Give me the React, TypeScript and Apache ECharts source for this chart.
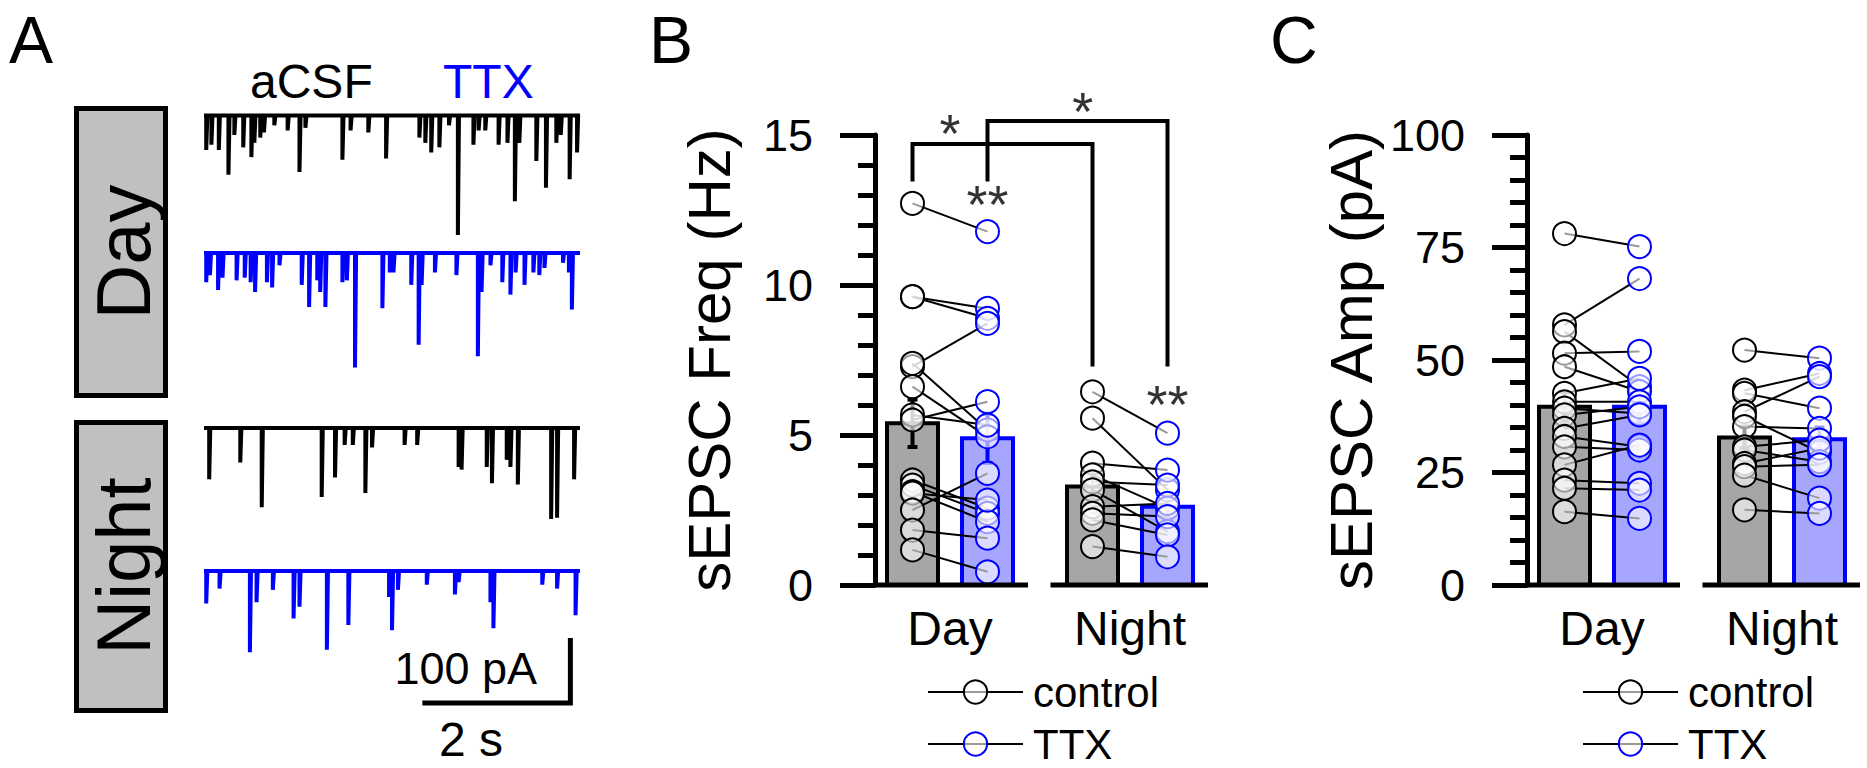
import { useEffect, useRef } from 'react';
import * as echarts from 'echarts';

const FONT = '"Liberation Sans", Arial, Helvetica, sans-serif';
const BLUE = '#0000ff';

// ---------- Panel A : sEPSC traces, events as [time (s), amplitude (pA)] ----------
const traceDuration = 5.08;
const dayAcsfEvents = [[0.03,53],[0.10,45],[0.20,53],[0.33,91],[0.41,30],[0.53,49],[0.64,64],[0.68,42],[0.76,34],[0.81,26],[0.95,15],[1.13,23],[1.29,87],[1.37,19],[1.87,68],[1.98,23],[2.22,26],[2.46,66],[2.91,34],[2.99,42],[3.07,57],[3.18,49],[3.31,15],[3.43,184],[3.64,45],[3.71,23],[3.80,23],[3.98,45],[4.10,42],[4.20,132],[4.26,42],[4.49,70],[4.62,111],[4.76,42],[4.82,30],[4.94,98],[5.04,57]];
const dayTtxEvents = [[0.03,45],[0.08,34],[0.19,57],[0.25,38],[0.44,42],[0.55,38],[0.63,45],[0.69,60],[0.85,45],[0.92,53],[1.02,19],[1.32,49],[1.42,83],[1.53,42],[1.57,60],[1.64,83],[1.87,45],[1.93,42],[2.04,176],[2.41,85],[2.51,30],[2.56,30],[2.80,49],[2.90,141],[2.94,49],[3.12,30],[3.41,34],[3.70,159],[3.75,60],[3.87,19],[4.03,45],[4.14,64],[4.21,30],[4.33,49],[4.45,30],[4.53,34],[4.60,23],[4.85,15],[4.93,30],[4.97,87]];
const nightAcsfEvents = [[0.07,79],[0.49,53],[0.78,122],[1.59,106],[1.77,76],[1.90,26],[2.01,26],[2.18,100],[2.27,30],[2.71,26],[2.88,26],[3.44,60],[3.48,64],[3.82,60],[3.89,85],[4.09,49],[4.14,60],[4.24,87],[4.69,140],[4.77,138],[5.00,79]];
const nightTtxEvents = [[0.03,50],[0.21,27],[0.62,125],[0.71,48],[0.93,29],[1.21,73],[1.29,55],[1.66,121],[1.95,83],[2.50,40],[2.54,91],[2.62,29],[3.01,21],[3.39,36],[3.44,17],[3.87,48],[3.91,88],[4.57,21],[4.77,27],[5.02,68]];
const scaleBarTime = 2;   // s
const scaleBarAmp = 100;  // pA

// ---------- Panel B : sEPSC frequency (Hz) ----------
const groups = ['Day', 'Night'];
const freqDayControl = [12.72, 9.61, 9.61, 7.28, 7.39, 6.61, 5.67, 5.5, 3.5, 3.33, 3.11, 3.06, 2.5, 1.83, 1.17];
const freqDayTTX = [11.78, 9.22, 8.89, 8.72, 5.17, 4.94, 5.33, 6.11, 2.56, 2.39, 2.11, 2.83, 3.72, 1.56, 0.44];
const freqNightControl = [6.44, 5.56, 4.06, 3.67, 3.44, 3.17, 2.61, 2.39, 2.17, 1.28];
const freqNightTTX = [5.06, 3.17, 3.83, 2.56, 3.33, 1.78, 2.72, 2.28, 1.67, 0.94];
const freqMean = [5.39, 4.89, 3.28, 2.61]; // day ctrl, day TTX, night ctrl, night TTX
const freqSem = [0.79, 0.82, 0.45, 0.4];
const freqTicks = { max: 15, interval: 5 };

// ---------- Panel C : sEPSC amplitude (pA) ----------
const ampDayControl = [78.1, 57.8, 56.3, 51.5, 48.5, 42.6, 40.7, 39.3, 37.8, 34.8, 33.0, 30.7, 26.7, 23.3, 21.5, 16.3];
const ampDayTTX = [75.2, 68.1, 44.1, 51.9, 43.0, 45.9, 40.7, 38.1, 39.6, 37.8, 30.7, 30.0, 31.1, 22.6, 21.1, 14.8];
const ampNightControl = [52.2, 43.3, 42.6, 38.5, 37.5, 35.2, 30.7, 30.0, 27.0, 26.3, 24.4, 16.7];
const ampNightTTX = [50.4, 47.0, 39.3, 46.3, 29.5, 34.8, 32.2, 27.4, 30.4, 26.7, 19.3, 15.9];
const ampMean = [39.6, 39.6, 32.8, 32.4];
const ampSem = [3.3, 3.8, 2.4, 2.6];
const ampTicks = { max: 100, interval: 25 };

// significance annotations (panel B): bracket paths and star labels in data units
const sigBrackets = [
  [[0, 13.45], [0, 14.7], [2.4, 14.7], [2.4, 7.28]],
  [[1, 13.45], [1, 15.47], [3.4, 15.47], [3.4, 7.28]],
];
const sigStars = [['*', 0.5, 15.27], ['*', 2.27, 16.0], ['**', 1, 12.9], ['**', 3.4, 6.22]];

// ---------- layout constants ----------
const POS = [0, 1, 2.4, 3.4];          // day ctrl, day TTX, night ctrl, night TTX
const GROUP_CENTER = [0.5, 2.9];
const X_MIN = -0.5, X_MAX = 3.94;
const AXIS_SEGMENTS = [[-0.5, 1.54], [1.84, 3.94]];
const BAR_W = 0.68;
const SB_T0 = 2.95, SB_A0 = -103;

function traceData(ev: number[][]) {
  const pts: number[][] = [[0, 0]];
  ev.forEach(([t, a]) => { pts.push([t, 0], [t, -a], [t + 0.015, 0]); });
  pts.push([traceDuration, 0]);
  return pts;
}

function barPanel(gi: number, means: number[], sems: number[], dc: number[], dt: number[], nc: number[], nt: number[]) {
  const s: any[] = [];
  s.push({
    type: 'custom', xAxisIndex: gi, yAxisIndex: gi, silent: true, z: 2,
    encode: { x: 0, y: 1 },
    data: means.map((m, i) => [POS[i], m, sems[i], i % 2]),
    renderItem: (params: any, api: any) => {
      const x = api.value(0), m = api.value(1), se = api.value(2), isT = api.value(3) === 1;
      const base = api.coord([x, 0]);
      const top = api.coord([x, m]);
      const w = api.size([BAR_W, 0])[0];
      const stroke = isT ? BLUE : '#000';
      const eT = api.coord([x, m + se]);
      const eB = api.coord([x, m - se]);
      const cap = 5;
      const ls = { stroke, lineWidth: 4 };
      return {
        type: 'group', children: [
          { type: 'rect', shape: { x: base[0] - w / 2, y: top[1], width: w, height: base[1] - top[1] }, style: { fill: isT ? '#a6a6ff' : '#a6a6a6', stroke, lineWidth: 4 } },
          { type: 'line', shape: { x1: eT[0], y1: eT[1], x2: eB[0], y2: eB[1] }, style: ls },
          { type: 'line', shape: { x1: eT[0] - cap, y1: eT[1], x2: eT[0] + cap, y2: eT[1] }, style: ls },
          { type: 'line', shape: { x1: eB[0] - cap, y1: eB[1], x2: eB[0] + cap, y2: eB[1] }, style: ls },
        ],
      };
    },
  });
  // broken x axis segments
  AXIS_SEGMENTS.forEach(([a, b]) => {
    s.push({ type: 'line', xAxisIndex: gi, yAxisIndex: gi, data: [[a, 0], [b, 0]], symbol: 'none', clip: false, silent: true, z: 5,
      lineStyle: { color: '#000', width: 5, cap: 'butt' } });
  });
  const pairs: [number[], number[], number, number][] = [[dc, dt, POS[0], POS[1]], [nc, nt, POS[2], POS[3]]];
  pairs.forEach(([c, t, xc, xt]) => {
    c.forEach((v, i) => {
      s.push({ type: 'line', xAxisIndex: gi, yAxisIndex: gi, data: [[xc, v], [xt, t[i]]], symbol: 'none', silent: true, z: 3,
        lineStyle: { color: '#000', width: 2 } });
    });
  });
  const ptStyle = (col: string) => ({ color: 'rgba(255,255,255,0.6)', borderColor: col, borderWidth: 2, opacity: 1 });
  s.push({ name: 'control', type: 'line', xAxisIndex: gi, yAxisIndex: gi, z: 4, silent: true,
    data: [...dc.map(v => [POS[0], v]), ...nc.map(v => [POS[2], v])],
    symbol: 'circle', symbolSize: 23, showSymbol: true, lineStyle: { width: 0, opacity: 0 }, itemStyle: ptStyle('#000') });
  s.push({ name: 'TTX', type: 'line', xAxisIndex: gi, yAxisIndex: gi, z: 4, silent: true,
    data: [...dt.map(v => [POS[1], v]), ...nt.map(v => [POS[3], v])],
    symbol: 'circle', symbolSize: 23, showSymbol: true, lineStyle: { width: 0, opacity: 0 }, itemStyle: ptStyle(BLUE) });
  return s;
}

function xAxisFor(gi: number) {
  return {
    gridIndex: gi, type: 'value', min: X_MIN, max: X_MAX, interval: 0.1,
    axisLine: { show: false, onZero: false }, axisTick: { show: false }, splitLine: { show: false },
    axisLabel: {
      customValues: GROUP_CENTER,
      formatter: (v: number) => (Math.abs(v - GROUP_CENTER[0]) < 0.01 ? groups[0] : Math.abs(v - GROUP_CENTER[1]) < 0.01 ? groups[1] : ''),
      fontSize: 48, color: '#000', fontFamily: FONT, margin: 19,
    },
  };
}

function yAxisFor(gi: number, ticks: { max: number; interval: number }, name: string, gap: number) {
  return {
    gridIndex: gi, type: 'value', min: 0, max: ticks.max, interval: ticks.interval,
    axisLine: { show: true, onZero: false, lineStyle: { color: '#000', width: 5 } },
    axisTick: { show: true, inside: false, length: 35, lineStyle: { color: '#000', width: 5 } },
    minorTick: { show: true, splitNumber: 5, length: 17, lineStyle: { color: '#000', width: 5 } },
    splitLine: { show: false }, minorSplitLine: { show: false },
    axisLabel: { fontSize: 45, color: '#000', fontFamily: FONT, margin: 62 },
    name, nameLocation: 'middle', nameGap: gap,
    nameTextStyle: { fontSize: 60, color: '#000', fontFamily: FONT },
  };
}

export default function App() {
  const ref = useRef<HTMLDivElement>(null);
  useEffect(() => {
    document.body.style.margin = '0';
    if (!ref.current) return;
    const chart = echarts.init(ref.current, undefined, { renderer: 'svg' });

    const traceTops = [109, 246.5, 421.5, 564.5];
    const traces = [dayAcsfEvents, dayTtxEvents, nightAcsfEvents, nightTtxEvents];
    const traceColors = ['#000', BLUE, '#000', BLUE];

    const grid: any[] = traceTops.map(t => ({ left: 204, top: t, width: 376, height: 143 }));
    grid.push({ left: 875, top: 135, width: 333, height: 450 });
    grid.push({ left: 1527, top: 135, width: 333, height: 450 });

    const xAxis: any[] = traceTops.map((_, i) => ({ gridIndex: i, type: 'value', min: 0, max: traceDuration, show: false }));
    xAxis.push(xAxisFor(4), xAxisFor(5));
    const yAxis: any[] = traceTops.map((_, i) => ({ gridIndex: i, type: 'value', min: -210, max: 10, show: false }));
    yAxis.push(yAxisFor(4, freqTicks, 'sEPSC Freq (Hz)', 136), yAxisFor(5, ampTicks, 'sEPSC Amp (pA)', 146));

    const series: any[] = traces.map((ev, i) => ({
      type: 'line', xAxisIndex: i, yAxisIndex: i, data: traceData(ev), symbol: 'none', silent: true,
      lineStyle: { color: traceColors[i], width: 4, join: 'miter' },
    }));
    series.push({
      type: 'line', xAxisIndex: 3, yAxisIndex: 3, symbol: 'none', clip: false, silent: true,
      data: [[SB_T0 + scaleBarTime, SB_A0], [SB_T0 + scaleBarTime, SB_A0 - scaleBarAmp], [SB_T0, SB_A0 - scaleBarAmp]],
      lineStyle: { color: '#000', width: 5, cap: 'butt', join: 'miter' },
    });
    series.push(...barPanel(4, freqMean, freqSem, freqDayControl, freqDayTTX, freqNightControl, freqNightTTX));
    series.push(...barPanel(5, ampMean, ampSem, ampDayControl, ampDayTTX, ampNightControl, ampNightTTX));
    sigBrackets.forEach(b => series.push({
      type: 'line', xAxisIndex: 4, yAxisIndex: 4, data: b, symbol: 'none', clip: false, silent: true, z: 6,
      lineStyle: { color: '#000', width: 4, join: 'miter' },
    }));
    series.push({
      type: 'scatter', xAxisIndex: 4, yAxisIndex: 4, clip: false, silent: true, z: 6, symbolSize: 1,
      itemStyle: { color: 'rgba(0,0,0,0)' },
      data: sigStars.map(([txt, x, y]) => ({ value: [x, y], name: txt })),
      label: { show: true, position: 'inside', formatter: '{b}', fontSize: 54, color: '#000', fontFamily: FONT, offset: [0, 6] },
    });

    const legendBase = {
      data: ['control', 'TTX'], orient: 'vertical', top: 671, padding: 0, width: 320, height: 94,
      itemWidth: 95, itemHeight: 29, itemGap: 10, selectedMode: false,
      textStyle: { fontSize: 42, color: '#000', fontFamily: FONT, padding: [0, 0, 0, 5] },
      lineStyle: { color: '#000', width: 2, opacity: 1 },
    };

    const txt = (text: string, x: number, y: number, size: number, fill = '#000', align = 'left', rotation = 0) => ({
      type: 'text', x, y, rotation, silent: true,
      style: { text, x: 0, y: 0, fontSize: size, fontFamily: FONT, fill, textAlign: align, align, textVerticalAlign: 'middle', verticalAlign: 'middle' },
    });

    const option: any = {
      animation: false,
      grid, xAxis, yAxis, series,
      legend: [{ ...legendBase, left: 927 }, { ...legendBase, left: 1582, width: 280 }],
      graphic: [
        txt('A', 9, 40, 66),
        txt('B', 649, 40, 66),
        txt('C', 1270, 40, 66),
        txt('aCSF', 250, 81, 48),
        txt('TTX', 443, 81, 48, BLUE),
        { type: 'rect', silent: true, shape: { x: 76.5, y: 108.5, width: 89, height: 287 }, style: { fill: '#c0c0c0', stroke: '#000', lineWidth: 5 } },
        { type: 'rect', silent: true, shape: { x: 76.5, y: 422.5, width: 89, height: 288 }, style: { fill: '#c0c0c0', stroke: '#000', lineWidth: 5 } },
        txt('Day', 123, 252, 76, '#000', 'center', Math.PI / 2),
        txt('Night', 123, 566, 76, '#000', 'center', Math.PI / 2),
        txt('100 pA', 537, 668, 45, '#000', 'right'),
        txt('2 s', 471, 739, 48, '#000', 'center'),
      ],
    };
    chart.setOption(option);
    return () => chart.dispose();
  }, []);
  return <div ref={ref} style={{ width: 1867, height: 768 }} />;
}
